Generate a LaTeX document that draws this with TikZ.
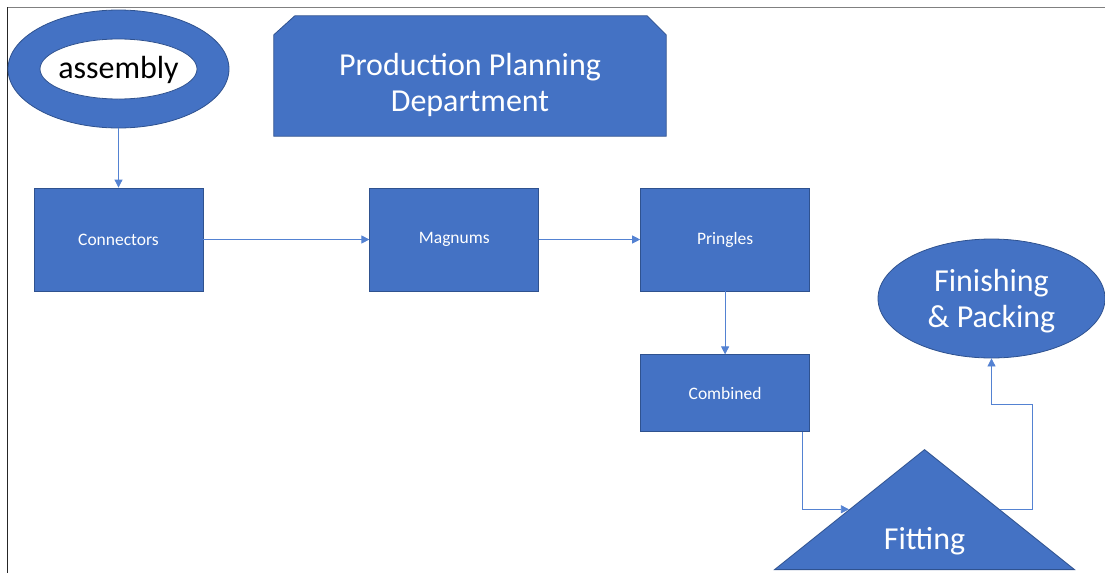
\documentclass[tikz,border=0pt]{standalone}
\usepackage{fontspec}
\setmainfont{Carlito}
\usepackage{xcolor}
\usepackage{tikz}
\usetikzlibrary{positioning,shapes.geometric,arrows.meta}
\definecolor{Office}{RGB}{68, 114, 196}
\definecolor{OfficeDark}{RGB}{47, 82, 143}
\definecolor{Wire}{RGB}{84, 130, 210}
\definecolor{FrameTop}{RGB}{128, 128, 128}
\definecolor{FrameLeft}{RGB}{38, 38, 38}

\begin{document}
\begin{tikzpicture}[
    x=1pt, y=-1pt,
    big/.style={font=\fontsize{32}{36}\selectfont},
    small/.style={font=\fontsize{17.5}{21}\selectfont},
    ring/.style={ellipse, draw=OfficeDark, fill=Office, line width=0.8pt,
                 minimum width=221pt, minimum height=118pt, inner sep=0pt},
    hole/.style={ellipse, draw=OfficeDark, fill=white, line width=0.8pt,
                 minimum width=157pt, minimum height=60pt, inner sep=0pt},
    plan/.style={rectangle, minimum width=392pt, minimum height=120pt, inner sep=0pt},
    snip/.style={draw=OfficeDark, fill=Office, line width=0.8pt},
    stepbox/.style={rectangle, draw=OfficeDark, fill=Office, line width=0.8pt, text=white,
                    minimum width=169pt, minimum height=103pt, inner sep=0pt, small},
    tri/.style={isosceles triangle, isosceles triangle stretches, shape border rotate=90,
                draw=OfficeDark, fill=Office, line width=0.8pt,
                minimum width=300pt, minimum height=120pt, inner sep=0pt},
    goal/.style={ellipse, draw=OfficeDark, fill=Office, line width=0.8pt,
                 minimum width=227pt, minimum height=119pt, inner sep=0pt},
    caption/.style={text=white, align=center, inner sep=0pt, big},
    arr/.style={-{Triangle[width=8pt,length=8pt]}, line width=0.8pt, Wire},
]
\useasboundingbox (0,0) rectangle (1105,573);

% page frame
\draw[FrameTop, line width=1.6pt] (7,7.5) -- (1105,7.5);
\draw[FrameLeft, line width=1.6pt] (7.5,7) -- (7.5,573);

\node[ring] (asm) at (118.5,69) {};
\node[hole] (asmhole) at (asm) {};
\node[caption, text=black] (asmtext) at ([yshift=-1pt]asmhole) {assembly};

% box with both upper corners snipped off
\node[plan] (ppd) at (470,76) {};
\draw[snip] ([yshift=-19pt]ppd.north west) -- ([xshift=21pt]ppd.north west)
    -- ([xshift=-19pt]ppd.north east) -- ([yshift=-19pt]ppd.north east)
    -- (ppd.south east) -- (ppd.south west) -- cycle;
\node[caption] (ppdtext) at ([yshift=-8.5pt]ppd.center) {Production Planning\\Department};

\node[stepbox] (conn) at (118.5,239.5) {Connectors};
\node[stepbox, right=166pt of conn] (mag) {Magnums};
\node[stepbox, right=101pt of mag] (pri) {Pringles};
\node[stepbox, below=63pt of pri, minimum height=77pt] (comb) {Combined};

\node[tri, anchor=lower side] (fit) at (924.5,570) {};
\node[caption] (fittext) at ([yshift=29pt]fit.lower side) {Fitting};

\node[goal] (fin) at (991.5,298.5) {};
\node[caption] (fintext) at ([yshift=-3pt]fin.center) {Finishing\\\& Packing};

\draw[arr] (asm.south) -- (conn.north);
\draw[arr] (conn) -- (mag);
\draw[arr] (mag) -- (pri);
\draw[arr] (pri) -- (comb);
\draw[arr] ([xshift=-8pt]comb.south east) |- (fit.left side);
\draw[arr] (fit.right side) -| (1032,404) -| (fin.south);
\end{tikzpicture}
\end{document}
